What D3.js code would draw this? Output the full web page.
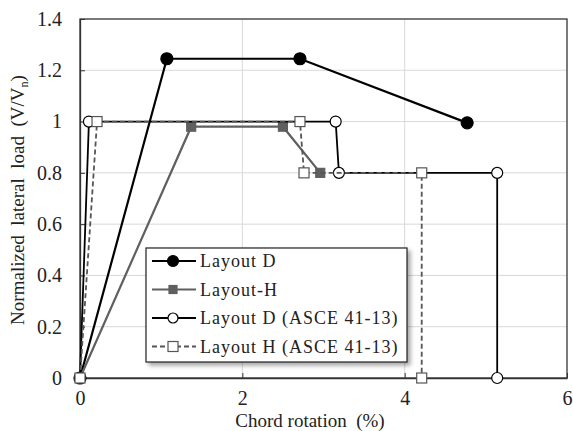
<!DOCTYPE html>
<html>
<head>
<meta charset="utf-8">
<script src="https://cdn.jsdelivr.net/npm/d3@7"></script>
<style>
  body { margin: 0; background: #fff; }
</style>
</head>
<body>
<script>
const width = 573, height = 431;
const margin = {top: 19, right: 6, bottom: 53, left: 80};
const innerW = width - margin.left - margin.right;
const innerH = height - margin.top - margin.bottom;
const serif = "'Liberation Serif'";

// data
const layoutD = [
  {x: 0, y: 0}, {x: 1.07, y: 1.245}, {x: 2.71, y: 1.245}, {x: 4.77, y: 0.995}
];
const layoutH = [
  {x: 0, y: 0}, {x: 1.37, y: 0.98}, {x: 2.50, y: 0.98}, {x: 2.96, y: 0.80}
];
const layoutDAsce = [
  {x: 0, y: 0}, {x: 0.11, y: 1.0}, {x: 3.15, y: 1.0}, {x: 3.19, y: 0.80}, {x: 5.14, y: 0.80}, {x: 5.14, y: 0}
];
const layoutHAsce = [
  {x: 0, y: 0}, {x: 0.21, y: 1.0}, {x: 2.71, y: 1.0}, {x: 2.76, y: 0.80}, {x: 4.21, y: 0.80}, {x: 4.21, y: 0}
];
const xTicks = [0, 2, 4, 6];
const yTicks = [0, 0.2, 0.4, 0.6, 0.8, 1, 1.2, 1.4];

const series = [
  {name: "Layout D", data: layoutD, color: "#000", marker: "circle", fill: "#000", dash: null, width: 2.2},
  {name: "Layout-H", data: layoutH, color: "#5f5f5f", marker: "square", fill: "#5f5f5f", dash: null, width: 2.2},
  {name: "Layout D (ASCE 41-13)", data: layoutDAsce, color: "#000", marker: "circle", fill: "#fff", dash: null, width: 1.8},
  {name: "Layout H (ASCE 41-13)", data: layoutHAsce, color: "#555", marker: "square", fill: "#fff", dash: "5,3", width: 1.8}
];

const svg = d3.select("body").append("svg")
  .attr("width", width)
  .attr("height", height);

const defs = svg.append("defs");
const shadow = defs.append("filter").attr("id", "shadow")
  .attr("x", "-10%").attr("y", "-10%").attr("width", "130%").attr("height", "140%");
shadow.append("feDropShadow")
  .attr("dx", 3).attr("dy", 3).attr("stdDeviation", 2)
  .attr("flood-color", "#000").attr("flood-opacity", 0.35);

const g = svg.append("g")
  .attr("transform", "translate(" + margin.left + "," + margin.top + ")");

let x = d3.scaleLinear().domain([0, 6]).range([0, innerW]);
let y = d3.scaleLinear().domain([0, 1.4]).range([innerH, 0]);

// grid
g.append("g").selectAll("line.hgrid")
  .data(yTicks.filter(d => d > 0 && d < 1.4))
  .enter().append("line")
  .attr("x1", 0).attr("x2", innerW)
  .attr("y1", d => y(d)).attr("y2", d => y(d))
  .attr("stroke", "#d9d9d9").attr("stroke-width", 1);

g.append("g").selectAll("line.vgrid")
  .data(xTicks.filter(d => d > 0 && d < 6))
  .enter().append("line")
  .attr("x1", d => x(d)).attr("x2", d => x(d))
  .attr("y1", 0).attr("y2", innerH)
  .attr("stroke", "#d9d9d9").attr("stroke-width", 1);

// axes (ticks point inward)
const xAxis = g.append("g")
  .attr("transform", "translate(0," + innerH + ")")
  .call(d3.axisBottom(x).tickValues(xTicks).tickFormat(d3.format("")).tickSizeInner(-5).tickSizeOuter(0).tickPadding(13));
const yAxis = g.append("g")
  .call(d3.axisLeft(y).tickValues(yTicks).tickFormat(d3.format("")).tickSizeInner(-5).tickSizeOuter(0).tickPadding(18));

[xAxis, yAxis].forEach(a => {
  a.select(".domain").attr("stroke", "#333").attr("stroke-width", 1.3);
  a.selectAll(".tick line").attr("stroke", "#333");
  a.selectAll(".tick text")
    .style("font-family", serif)
    .style("font-size", "20px")
    .attr("fill", "#222");
});

// frame
g.append("rect")
  .attr("width", innerW).attr("height", innerH)
  .attr("fill", "none").attr("stroke", "#333").attr("stroke-width", 1.3);

// lines
const line = d3.line().x(d => x(d.x)).y(d => y(d.y));

function drawMarker(sel, s, size) {
  if (s.marker === "circle") {
    sel.append("circle").attr("r", size)
      .attr("fill", s.fill).attr("stroke", s.color).attr("stroke-width", 1.2);
  } else {
    sel.append("rect")
      .attr("x", -size).attr("y", -size)
      .attr("width", size * 2).attr("height", size * 2)
      .attr("fill", s.fill).attr("stroke", s.color).attr("stroke-width", 1.2);
  }
}

function markerSize(s) {
  if (s.fill === "#fff") return s.marker === "circle" ? 5.5 : 5;
  return s.marker === "circle" ? 6 : 4.5;
}

// series drawn in order, each with its markers
series.forEach(s => {
  g.append("path")
    .datum(s.data)
    .attr("d", line)
    .attr("fill", "none")
    .attr("stroke", s.color)
    .attr("stroke-width", s.width)
    .attr("stroke-dasharray", s.dash);
  s.data.forEach(d => {
    const m = g.append("g").attr("transform", "translate(" + x(d.x) + "," + y(d.y) + ")");
    drawMarker(m, s, markerSize(s));
  });
});

// legend
const lg = g.append("g").attr("transform", "translate(" + (146 - margin.left) + "," + (248 - margin.top) + ")");
lg.append("rect")
  .attr("width", 261).attr("height", 114)
  .attr("fill", "#fff").attr("stroke", "#222").attr("stroke-width", 1.2)
  .attr("filter", "url(#shadow)");

series.forEach((s, i) => {
  const row = lg.append("g").attr("transform", "translate(0," + (13 + i * 28.5) + ")");
  row.append("line")
    .attr("x1", 6).attr("x2", 50)
    .attr("stroke", s.color).attr("stroke-width", s.width)
    .attr("stroke-dasharray", s.dash);
  const m = row.append("g").attr("transform", "translate(27,0)");
  drawMarker(m, s, s.fill === "#fff" ? 5 : (s.marker === "circle" ? 5.5 : 4));
  row.append("text")
    .attr("x", 54).attr("y", 6)
    .style("font-family", serif)
    .style("font-size", "18px")
    .style("letter-spacing", "1px")
    .attr("fill", "#222")
    .text(s.name);
});

// axis titles
svg.append("text")
  .attr("x", 310).attr("y", 427)
  .attr("text-anchor", "middle")
  .style("font-family", serif)
  .style("font-size", "19px")
  .style("white-space", "pre")
  .attr("fill", "#222")
  .text("Chord rotation  (%)");

const yt = svg.append("text")
  .attr("transform", "translate(24,200) rotate(-90)")
  .attr("text-anchor", "middle")
  .style("font-family", serif)
  .style("font-size", "19px")
  .style("white-space", "pre")
  .attr("fill", "#222");
yt.append("tspan").text("Normalized  lateral  load  (V/V");
yt.append("tspan").style("font-size", "12px").attr("dy", 4).text("n");
yt.append("tspan").attr("dy", -4).text(")");
</script>
</body>
</html>
